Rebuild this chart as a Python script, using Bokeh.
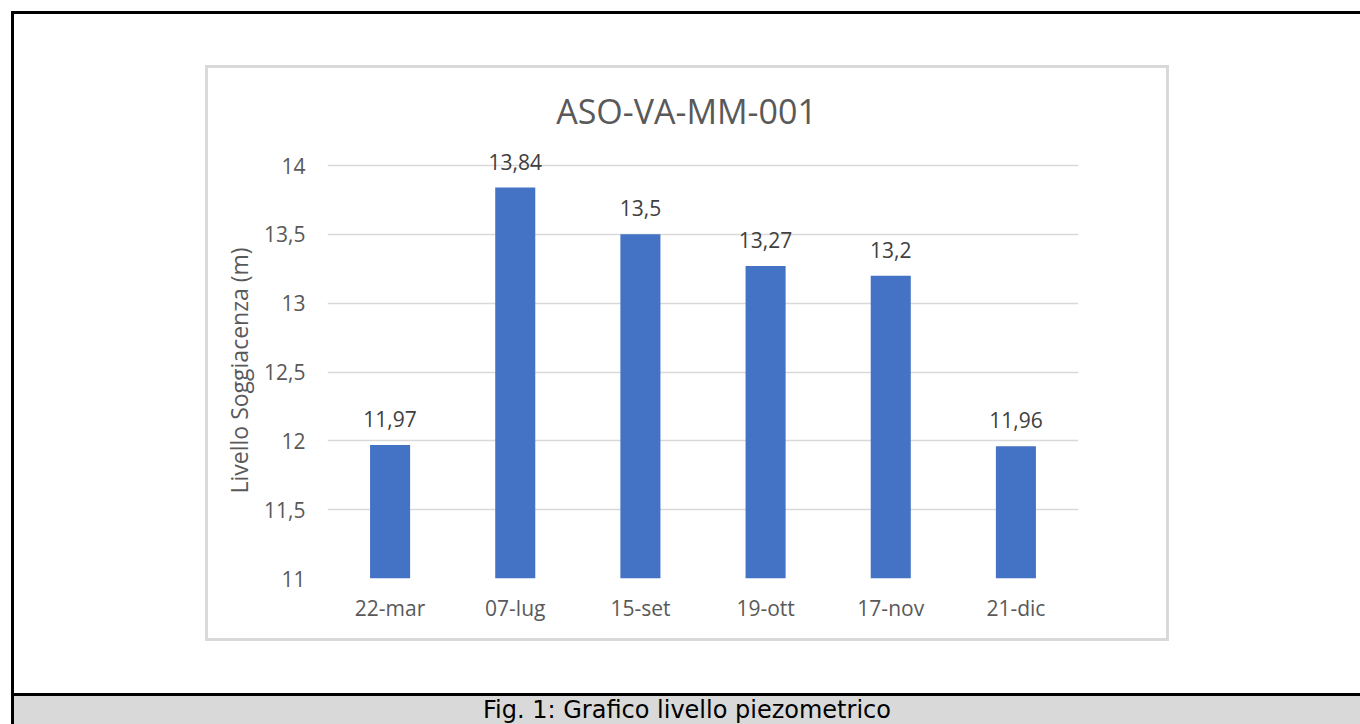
from bokeh.plotting import figure
from bokeh.layouts import column
from bokeh.models import (FactorRange, Range1d, Label, FixedTicker, Title, Div,
                          InlineStyleSheet)
from bokeh.embed import file_html
from bokeh.resources import INLINE
from bokeh.core.properties import value

# ---- data ----
title_text = "ASO-VA-MM-001"
dates = ["22-mar", "07-lug", "15-set", "19-ott", "17-nov", "21-dic"]
levels = [11.97, 13.84, 13.5, 13.27, 13.2, 11.96]
y_ticks = [11, 11.5, 12, 12.5, 13, 13.5, 14]
y_tick_labels = ["11", "11,5", "12", "12,5", "13", "13,5", "14"]
y_label = "Livello Soggiacenza (m)"
caption = "Fig. 1: Grafico livello piezometrico"

FONT = "Open Sans"
W = 1360
FIG_H = 693          # figure height; caption band below
FRAME_L, FRAME_R = 327, 1078
FRAME_T, FRAME_B = 80, 578   # frame extends above the 14 gridline (at 165) to hold the title
GRID_TOP_PX = 165

y_min, y_max_tick = y_ticks[0], y_ticks[-1]
y_top = y_min + (y_max_tick - y_min) * (FRAME_B - FRAME_T) / (FRAME_B - GRID_TOP_PX)

css = """
:host::before {
  content: ""; position: absolute; left: 11px; top: 11px; width: 1349px; height: 682px;
  border-left: 3px solid #000; border-top: 3px solid #000; box-sizing: border-box;
  pointer-events: none; z-index: 10;
}
:host::after {
  content: ""; position: absolute; left: 205px; top: 65px; width: 964px; height: 576px;
  border: 3px solid #d9d9d9; box-sizing: border-box; pointer-events: none; z-index: 10;
}
"""

p = figure(width=W, height=FIG_H,
           x_range=FactorRange(factors=dates, range_padding=0),
           y_range=Range1d(y_min, y_top),
           output_backend="svg", toolbar_location=None,
           min_border_left=FRAME_L, min_border_right=W - FRAME_R,
           min_border_top=FRAME_T, min_border_bottom=FIG_H - FRAME_B,
           stylesheets=[InlineStyleSheet(css=css)])

p.outline_line_color = None
p.background_fill_color = None
p.border_fill_color = None

# grid
p.xgrid.grid_line_color = None
p.ygrid.grid_line_color = "#d9d9d9"
p.ygrid.grid_line_width = 1.5
p.yaxis.ticker = FixedTicker(ticks=y_ticks)
p.yaxis.major_label_overrides = {t: l for t, l in zip(y_ticks, y_tick_labels)}

# bars
p.vbar(x=dates, top=levels, bottom=y_min, width=0.32, fill_color="#4472c4",
       line_color=None)

# data labels
p.text(x=dates, y=levels, text=[f"{v:g}".replace(".", ",") for v in levels],
       y_offset=-26, text_align="center", text_baseline="alphabetic",
       text_font=value(FONT), text_font_size="21px", text_color="#404040")

# axes
for ax in (p.xaxis, p.yaxis):
    ax.axis_line_color = None
    ax.major_tick_line_color = None
    ax.minor_tick_line_color = None
    ax.major_tick_out = 0
    ax.major_tick_in = 0
    ax.minor_tick_out = 0
    ax.major_label_text_font = FONT
    ax.major_label_text_font_size = "21px"
    ax.major_label_text_color = "#595959"

p.xaxis.major_label_standoff = 15
p.yaxis.major_label_standoff = 22

# y axis title (left panel), positioned along the gridline area
p.add_layout(Title(text=y_label, align="left", offset=85, standoff=14,
                   vertical_align="bottom",
                   text_font=FONT, text_font_size="23px", text_font_style="normal",
                   text_color="#595959"), "left")

# chart title inside the (extended) frame
p.add_layout(Label(x=686 - FRAME_L, y=FRAME_B - 110, x_units="screen", y_units="screen",
                   text=title_text, text_align="center", text_baseline="middle",
                   text_font=FONT, text_font_size="34px", text_color="#595959"))

# caption band
cap = Div(text=("<div style=\"font-family:'DejaVu Sans';font-size:24px;line-height:28px;"
                "color:#000;text-align:center;\">" + caption + "</div>"),
          width=W - 11, height=31, margin=(0, 0, 0, 11),
          styles={"background-color": "#d9d9d9", "border-top": "3px solid #000",
                  "border-left": "3px solid #000", "box-sizing": "border-box",
                  "text-align": "center", "overflow": "hidden"})

layout = column(p, cap, spacing=0)
open("out.html", "w").write(file_html(layout, INLINE))
